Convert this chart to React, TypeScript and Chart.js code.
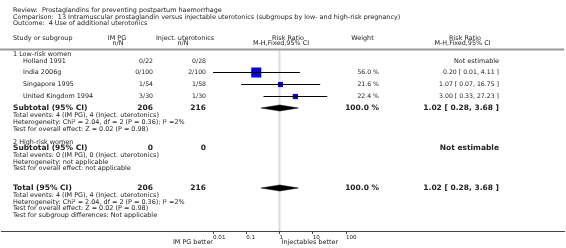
import React, { useEffect, useRef } from 'react';
import { Chart, registerables } from 'chart.js';

Chart.register(...registerables);

// ---------------- data ----------------
const STUDIES = ['Holland 1991', 'India 2006g', 'Singapore 1995', 'United Kingdom 1994'];
const PG_EVENTS = [0, 0, 1, 3];
const PG_TOTAL = [22, 100, 54, 30];
const INJ_EVENTS = [0, 2, 1, 1];
const INJ_TOTAL = [28, 100, 58, 30];
const WEIGHTS: (number | null)[] = [null, 56.0, 21.6, 22.4];
const RR: (number | null)[] = [null, 0.2, 1.07, 3.0];
const RR_LO: (number | null)[] = [null, 0.01, 0.07, 0.33];
const RR_HI: (number | null)[] = [null, 4.11, 16.75, 27.23];

const SUB1 = { rr: 1.02, lo: 0.28, hi: 3.68, weight: 100.0 };
const TOTAL = { rr: 1.02, lo: 0.28, hi: 3.68, weight: 100.0 };

const TICKS = [0.01, 0.1, 1, 10, 100];
const TICK_LABELS = ['0.01', '0.1', '1', '10', '100'];

const TITLE_LINES = [
  'Review:  Prostaglandins for preventing postpartum haemorrhage',
  'Comparison:  13 Intramuscular prostaglandin versus injectable uterotonics (subgroups by low- and high-risk pregnancy)',
  'Outcome:  4 Use of additional uterotonics',
];
const SUB1_STATS = [
  'Total events: 4 (IM PG), 4 (Inject. uterotonics)',
  'Heterogeneity: Chi\u00b2 = 2.04, df = 2 (P = 0.36); I\u00b2 =2%',
  'Test for overall effect: Z = 0.02 (P = 0.98)',
];
const SUB2_STATS = [
  'Total events: 0 (IM PG), 0 (Inject. uterotonics)',
  'Heterogeneity: not applicable',
  'Test for overall effect: not applicable',
];
const TOTAL_STATS = [
  'Total events: 4 (IM PG), 4 (Inject. uterotonics)',
  'Heterogeneity: Chi\u00b2 = 2.04, df = 2 (P = 0.36); I\u00b2 =2%',
  'Test for overall effect: Z = 0.02 (P = 0.98)',
  'Test for subgroup differences: Not applicable',
];

// ---------------- layout (row positions, px on the y scale) ----------------
const Y_TITLE = [10.5, 17, 23.5];
const Y_HEAD1 = 38;
const Y_HEAD2 = 43.5;
const Y_SEP = 49.5;
const Y_G1 = 54;
const Y_STUDY = [61, 72.5, 84.5, 96.5];
const Y_SUB1 = 108;
const Y_SUB1_STATS = [115.5, 122.5, 129];
const Y_G2 = 142;
const Y_SUB2 = 148.5;
const Y_SUB2_STATS = [155.5, 162, 168.5];
const Y_TOTAL = 188;
const Y_TOTAL_STATS = [195.5, 202, 208.5, 215.5];
const Y_AXIS = 231;

const FONT = '"DejaVu Sans", Verdana, sans-serif';
const TXT = '#222';
const FS = 6.45;
const FB = 7.5;

const fmt = (v: number) => v.toFixed(2);
const ci = (r: number, l: number, h: number) => `${fmt(r)} [ ${fmt(l)}, ${fmt(h)} ]`;

function sum(a: number[]) {
  return a.reduce((s, v) => s + v, 0);
}

const textPlugin = {
  id: 'forestText',
  afterDraw(chart: any) {
    const ctx = chart.ctx as CanvasRenderingContext2D;
    const W = chart.width;
    const xs = chart.scales.x;
    const ys = chart.scales.y;
    const Y = (v: number) => ys.getPixelForValue(v);
    const t = (s: string, x: number, y: number, align: CanvasTextAlign = 'left', bold = false, size = FS) => {
      ctx.font = `${bold ? 'bold ' : ''}${size}px ${FONT}`;
      ctx.textAlign = align;
      ctx.textBaseline = 'middle';
      ctx.fillStyle = TXT;
      ctx.fillText(s, x, Y(y));
    };
    ctx.save();
    // header separator
    ctx.strokeStyle = '#9a9a9a';
    ctx.lineWidth = 2;
    ctx.beginPath();
    ctx.moveTo(0, Y(Y_SEP));
    ctx.lineTo(W - 2, Y(Y_SEP));
    ctx.stroke();
    // full-width axis line
    ctx.strokeStyle = '#444';
    ctx.lineWidth = 1;
    ctx.beginPath();
    ctx.moveTo(1, Math.round(xs.top) + 0.5);
    ctx.lineTo(W - 1, Math.round(xs.top) + 0.5);
    ctx.stroke();

    TITLE_LINES.forEach((s, i) => t(s, 13, Y_TITLE[i]));
    t('Study or subgroup', 13, Y_HEAD1);
    t('IM PG', 117, Y_HEAD1, 'center');
    t('n/N', 118, Y_HEAD2, 'center');
    t('Inject. uterotonics', 185, Y_HEAD1, 'center');
    t('n/N', 183, Y_HEAD2, 'center');
    t('Risk Ratio', 288, Y_HEAD1, 'center');
    t('M-H,Fixed,95% CI', 281, Y_HEAD2, 'center');
    t('Weight', 362.5, Y_HEAD1, 'center');
    t('Risk Ratio', 465, Y_HEAD1, 'center');
    t('M-H,Fixed,95% CI', 462.5, Y_HEAD2, 'center');

    t('1 Low-risk women', 13, Y_G1);
    STUDIES.forEach((s, i) => {
      const y = Y_STUDY[i];
      t(s, 23, y);
      t(`${PG_EVENTS[i]}/${PG_TOTAL[i]}`, 153, y, 'right', false, 6.2);
      t(`${INJ_EVENTS[i]}/${INJ_TOTAL[i]}`, 206, y, 'right', false, 6.2);
      const w = WEIGHTS[i];
      if (w != null) t(`${w.toFixed(1)} %`, 379, y, 'right', false, 6.2);
      const r = RR[i];
      if (r == null) t('Not estimable', 499, y, 'right');
      else t(ci(r, RR_LO[i] as number, RR_HI[i] as number), 499, y, 'right', false, 6.2);
    });
    t('Subtotal (95% CI)', 13, Y_SUB1, 'left', true, FB);
    t(String(sum(PG_TOTAL)), 153, Y_SUB1, 'right', true, FB);
    t(String(sum(INJ_TOTAL)), 206, Y_SUB1, 'right', true, FB);
    t(`${SUB1.weight.toFixed(1)} %`, 379, Y_SUB1, 'right', true, FB);
    t(ci(SUB1.rr, SUB1.lo, SUB1.hi), 499, Y_SUB1, 'right', true, FB);
    SUB1_STATS.forEach((s, i) => t(s, 13, Y_SUB1_STATS[i]));

    t('2 High-risk women', 13, Y_G2);
    t('Subtotal (95% CI)', 13, Y_SUB2, 'left', true, FB);
    t('0', 153, Y_SUB2, 'right', true, FB);
    t('0', 206, Y_SUB2, 'right', true, FB);
    t('Not estimable', 499, Y_SUB2, 'right', true, FB);
    SUB2_STATS.forEach((s, i) => t(s, 13, Y_SUB2_STATS[i]));

    t('Total (95% CI)', 13, Y_TOTAL, 'left', true, FB);
    t(String(sum(PG_TOTAL)), 153, Y_TOTAL, 'right', true, FB);
    t(String(sum(INJ_TOTAL)), 206, Y_TOTAL, 'right', true, FB);
    t(`${TOTAL.weight.toFixed(1)} %`, 379, Y_TOTAL, 'right', true, FB);
    t(ci(TOTAL.rr, TOTAL.lo, TOTAL.hi), 499, Y_TOTAL, 'right', true, FB);
    TOTAL_STATS.forEach((s, i) => t(s, 13, Y_TOTAL_STATS[i]));

    // favours labels
    ctx.font = `${FS}px ${FONT}`;
    ctx.textBaseline = 'middle';
    ctx.fillStyle = TXT;
    ctx.textAlign = 'right';
    ctx.fillText('IM PG better', xs.getPixelForValue(0.01), 242);
    ctx.textAlign = 'left';
    ctx.fillText('Injectables better', xs.getPixelForValue(1) + 2, 242);
    ctx.restore();
  },
};

export default function App() {
  const ref = useRef<HTMLCanvasElement>(null);
  useEffect(() => {
    const canvas = ref.current;
    if (!canvas) return;

    const ciSets = STUDIES.map((_, i) =>
      RR[i] == null
        ? null
        : {
            type: 'scatter' as const,
            showLine: true,
            data: [
              { x: RR_LO[i], y: Y_STUDY[i] },
              { x: RR_HI[i], y: Y_STUDY[i] },
            ],
            borderColor: '#000',
            borderWidth: 1,
            pointRadius: 0,
            clip: false as any,
          }
    ).filter(Boolean) as any[];

    const boxIdx = STUDIES.map((_, i) => i).filter((i) => RR[i] != null);
    const boxSet = {
      type: 'scatter' as const,
      data: boxIdx.map((i) => ({ x: RR[i], y: Y_STUDY[i] })),
      pointStyle: 'rect',
      pointRadius: boxIdx.map((i) => (2 + 0.143 * (WEIGHTS[i] as number)) / Math.SQRT2),
      backgroundColor: '#0000ff',
      borderColor: '#0000ff',
      borderWidth: 0,
      clip: false as any,
    };

    const diamond = (d: { rr: number; lo: number; hi: number }, y: number) => ({
      type: 'scatter' as const,
      showLine: true,
      data: [
        { x: d.lo, y },
        { x: d.rr, y: y - 3 },
        { x: d.hi, y },
        { x: d.rr, y: y + 3 },
        { x: d.lo, y },
      ],
      borderColor: '#000',
      backgroundColor: '#000',
      borderWidth: 0.5,
      pointRadius: 0,
      fill: 'shape',
      tension: 0,
      clip: false as any,
    });

    const refLine = {
      type: 'scatter' as const,
      showLine: true,
      data: [
        { x: 1, y: Y_SEP + 1 },
        { x: 1, y: Y_AXIS },
      ],
      borderColor: '#dcdcdc',
      borderWidth: 2,
      pointRadius: 0,
      clip: false as any,
    };

    const chart = new Chart(canvas, {
      type: 'scatter',
      data: {
        datasets: [...ciSets, boxSet, diamond(SUB1, Y_SUB1), diamond(TOTAL, Y_TOTAL), refLine] as any,
      },
      options: {
        animation: false,
        responsive: false,
        devicePixelRatio: 1,
        layout: { autoPadding: false, padding: { left: 213, right: 220, top: 0, bottom: 0 } },
        plugins: { legend: { display: false }, tooltip: { enabled: false } },
        events: [],
        scales: {
          x: {
            type: 'logarithmic',
            min: 0.01,
            max: 100,
            afterBuildTicks: (scale: any) => {
              scale.ticks = TICKS.map((v) => ({ value: v }));
            },
            afterFit: (scale: any) => {
              scale.height = 17;
            },
            border: { display: false },
            grid: { display: true, drawOnChartArea: false, drawTicks: true, tickLength: 3, color: '#444' },
            ticks: {
              align: 'start',
              padding: 0,
              autoSkip: false,
              maxRotation: 0,
              color: TXT,
              font: { family: FONT, size: 5.6 },
              callback: (_v: any, i: number) => TICK_LABELS[i],
            },
          },
          y: {
            type: 'linear',
            min: 0,
            max: Y_AXIS,
            reverse: true,
            display: false,
          },
        },
      },
      plugins: [textPlugin],
    } as any);
    return () => chart.destroy();
  }, []);

  return (
    <div style={{ position: 'fixed', left: 0, top: 0, width: 566, height: 248, background: '#fff' }}>
      <canvas ref={ref} width={566} height={248} style={{ display: 'block', width: 566, height: 248 }} />
    </div>
  );
}
